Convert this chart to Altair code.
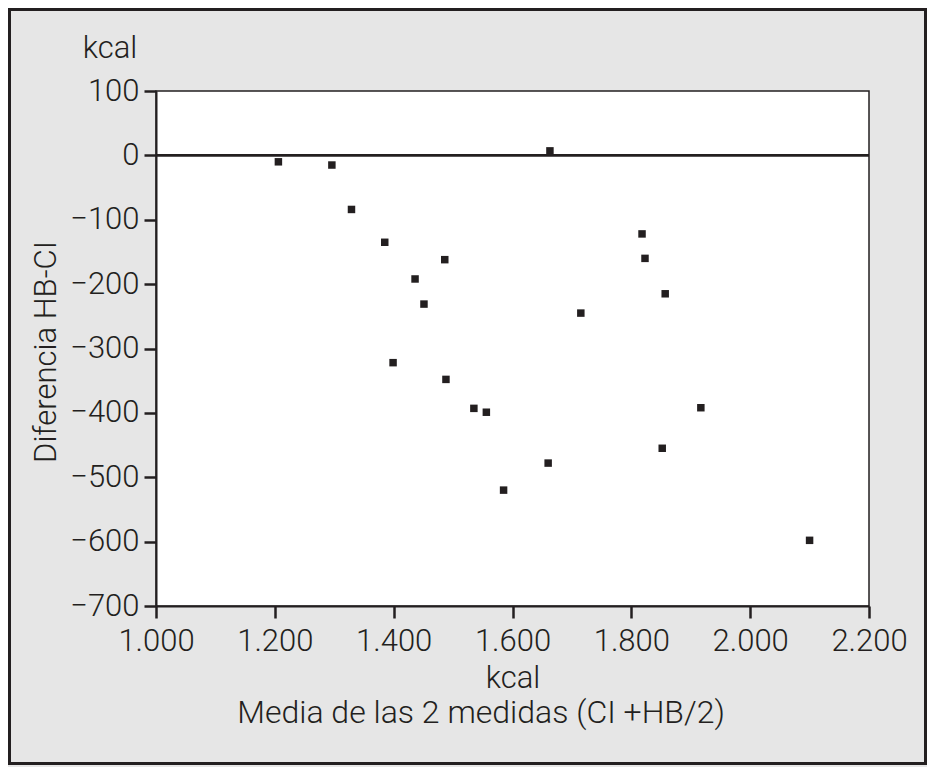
import altair as alt
import pandas as pd

# ---- data ----
media = [1206, 1296, 1329, 1385, 1436, 1451, 1486, 1399, 1488, 1535, 1556,
         1585, 1660, 1663, 1715, 1818, 1823, 1857, 1852, 1917, 2100]
diferencia = [-10, -15, -84, -135, -192, -231, -162, -322, -348, -393, -399,
              -520, -478, 7, -245, -122, -160, -215, -455, -392, -598]
x_ticks = [1000, 1200, 1400, 1600, 1800, 2000, 2200]
y_ticks = [100, 0, -100, -200, -300, -400, -500, -600, -700]
zero_line = [0]

y_unit = "kcal"
x_unit = "kcal"
y_title = "Diferencia HB-CI"
x_caption = "Media de las 2 medidas (CI +HB/2)"

df = pd.DataFrame({"media": media, "diferencia": diferencia})
zero_df = pd.DataFrame({"diferencia": zero_line})
one = pd.DataFrame({"k": [0]})

W, H = 713, 515
PAD = {"left": 148, "top": 83, "right": 58, "bottom": 161}
FONT = "Roboto"
FW = 300
INK = "#231f20"
FS = 31

x_scale = alt.Scale(domain=[1000, 2200], nice=False, zero=False)
y_scale = alt.Scale(domain=[-700, 100], nice=False, zero=False)

x_axis = alt.Axis(
    values=x_ticks,
    labelExpr="replace(format(datum.value, ','), ',', '.')",
    labelFlush=False, labelOverlap=False,
    title=x_unit, titleY=81, titleBaseline="alphabetic",
    titleFontWeight=FW, labelFontWeight=FW,
    grid=False, tickSize=12, tickWidth=2.5, labelPadding=8,
    domainWidth=2, domainColor=INK, tickColor=INK,
    labelColor=INK, titleColor=INK,
    labelFont=FONT, titleFont=FONT, labelFontSize=FS, titleFontSize=FS,
)
y_axis = alt.Axis(
    values=y_ticks, format="d", labelFlush=False, labelOverlap=False,
    title=y_title, titleX=-101, titleY=H / 2 + 3, titleBaseline="alphabetic",
    titleAngle=-90, titleAlign="center",
    titleFontWeight=FW, labelFontWeight=FW,
    grid=False, tickSize=12, tickWidth=2.5, labelPadding=5,
    domainWidth=2, domainColor=INK, tickColor=INK,
    labelColor=INK, titleColor=INK,
    labelFont=FONT, titleFont=FONT, labelFontSize=FS, titleFontSize=31,
)

frame = alt.Chart(one).mark_rect(
    filled=False, stroke=INK, strokeWidth=3
).encode(
    x=alt.value(-PAD["left"] + 1.5),
    x2=alt.value(W + PAD["right"] - 1.5),
    y=alt.value(-PAD["top"] + 1.5),
    y2=alt.value(H + PAD["bottom"] - 3.5),
)

points = alt.Chart(df).mark_square(size=56, color=INK, opacity=1).encode(
    x=alt.X("media:Q", scale=x_scale, axis=x_axis),
    y=alt.Y("diferencia:Q", scale=y_scale, axis=y_axis),
)

rule = alt.Chart(zero_df).mark_rule(color=INK, strokeWidth=2.8).encode(
    y=alt.Y("diferencia:Q", scale=y_scale, axis=y_axis)
)

top_unit = alt.Chart(one).mark_text(
    text=y_unit, font=FONT, fontSize=FS, fontWeight=FW, color=INK,
    align="center", baseline="alphabetic"
).encode(x=alt.value(-46), y=alt.value(-33))

caption = alt.Chart(one).mark_text(
    text=x_caption, font=FONT, fontSize=32, fontWeight=FW, color=INK,
    align="center", baseline="alphabetic"
).encode(x=alt.value(325), y=alt.value(632))

chart = alt.layer(frame, points, rule, top_unit, caption).properties(
    width=W, height=H, padding=PAD,
    autosize=alt.AutoSizeParams(type="none"),
    background="#e6e6e6",
).configure_view(fill="white", stroke=INK, strokeWidth=1.5)

chart.save("out.html", embed_options={"renderer": "svg", "actions": False})
